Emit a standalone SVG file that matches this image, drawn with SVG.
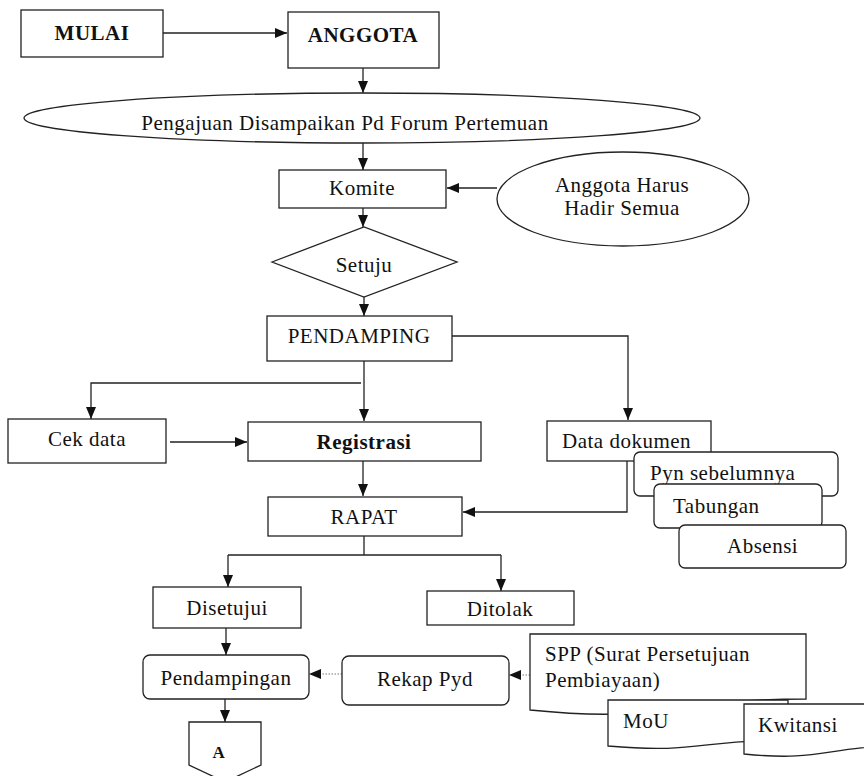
<svg xmlns="http://www.w3.org/2000/svg" width="864" height="776" viewBox="0 0 864 776" font-family="'Liberation Serif', 'DejaVu Serif', serif">
<style>
.b{fill:#fff;stroke:#222;stroke-width:1.3}
.t{font-family:'Liberation Serif','DejaVu Serif',serif;font-size:21px;letter-spacing:0.5px;fill:#111}
.c{text-anchor:middle}
.bd{font-weight:bold}
.ln{fill:none;stroke:#222;stroke-width:1.3}
.dt{fill:none;stroke:#777;stroke-width:1;stroke-dasharray:1.5 1.5}
</style>
<defs>
<marker id="ah" markerUnits="userSpaceOnUse" markerWidth="12" markerHeight="10" refX="12" refY="5" orient="auto">
<path d="M0,0 L12,5 L0,10 Z" fill="#111"/>
</marker>
</defs>
<rect width="864" height="776" fill="#fff"/>
<g id="connectors">
<path class="ln" d="M163,33 H287" marker-end="url(#ah)"/>
<path class="ln" d="M363,68 V93" marker-end="url(#ah)"/>
<path class="ln" d="M363,143 V170" marker-end="url(#ah)"/>
<path class="ln" d="M497,188 H447" marker-end="url(#ah)"/>
<path class="ln" d="M363,208 V227" marker-end="url(#ah)"/>
<path class="ln" d="M364,297 V316" marker-end="url(#ah)"/>
<path class="ln" d="M452,336 H628 V420" marker-end="url(#ah)"/>
<path class="ln" d="M364,361 V421" marker-end="url(#ah)"/>
<path class="ln" d="M361,383 H91 V419" marker-end="url(#ah)"/>
<path class="ln" d="M170,442 H247" marker-end="url(#ah)"/>
<path class="ln" d="M363,461 V496" marker-end="url(#ah)"/>
<path class="ln" d="M627,461 V512 H463" marker-end="url(#ah)"/>
<path class="ln" d="M364,536 V555"/>
<path class="ln" d="M228,555 H501"/>
<path class="ln" d="M228,555 V587" marker-end="url(#ah)"/>
<path class="ln" d="M501,555 V591" marker-end="url(#ah)"/>
<path class="ln" d="M226,628 V655" marker-end="url(#ah)"/>
<path class="ln" d="M225,694 V722" marker-end="url(#ah)"/>
<path class="dt" d="M342,674 H320"/>
<path d="M309,674 L321,669 L321,679 Z" fill="#111"/>
<path class="dt" d="M530,675 H520"/>
<path d="M509,675 L521,670 L521,680 Z" fill="#111"/>
</g>
<g id="mulai"><rect class="b" x="21" y="10" width="142" height="47"/><text class="t c bd" x="92" y="40">MULAI</text></g>
<g id="anggota"><rect class="b" x="288" y="12" width="151" height="56"/><text class="t c bd" x="363" y="42">ANGGOTA</text></g>
<g id="pengajuan"><ellipse class="b" cx="362" cy="118" rx="338" ry="25"/><text class="t c" x="345" y="130">Pengajuan Disampaikan Pd Forum Pertemuan</text></g>
<g id="komite"><rect class="b" x="279" y="170" width="167" height="38"/><text class="t c" x="362" y="195">Komite</text></g>
<g id="anggota-hadir"><ellipse class="b" cx="623" cy="199" rx="126" ry="47"/><text class="t c" x="622" y="192">Anggota Harus</text><text class="t c" x="622" y="215">Hadir Semua</text></g>
<g id="setuju"><polygon class="b" points="272,262 364,227 457,262 364,297"/><text class="t c" x="364" y="272">Setuju</text></g>
<g id="pendamping"><rect class="b" x="267" y="316" width="185" height="45"/><text class="t c" x="359" y="343">PENDAMPING</text></g>
<g id="cek-data"><rect class="b" x="8" y="419" width="158" height="44"/><text class="t c" x="87" y="446">Cek data</text></g>
<g id="registrasi"><rect class="b" x="248" y="422" width="233" height="39"/><text class="t c bd" x="364" y="449">Registrasi</text></g>
<g id="data-dokumen"><rect class="b" x="547" y="421" width="164" height="40"/><text class="t" x="562" y="448">Data dokumen</text></g>
<g id="pyn"><rect class="b" x="634" y="452" width="204" height="44" rx="6"/><text class="t" x="650" y="480">Pyn sebelumnya</text></g>
<g id="tabungan"><rect class="b" x="654" y="484" width="168" height="44" rx="6"/><text class="t" x="673" y="513">Tabungan</text></g>
<g id="absensi"><rect class="b" x="679" y="525" width="167" height="43" rx="6"/><text class="t" x="727" y="553">Absensi</text></g>
<g id="rapat"><rect class="b" x="268" y="497" width="194" height="39"/><text class="t c" x="364" y="524">RAPAT</text></g>
<g id="disetujui"><rect class="b" x="153" y="587" width="148" height="41"/><text class="t c" x="227" y="615">Disetujui</text></g>
<g id="ditolak"><rect class="b" x="427" y="591" width="147" height="34"/><text class="t c" x="500" y="616">Ditolak</text></g>
<g id="pendampingan"><rect class="b" x="143" y="655" width="166" height="44" rx="7"/><text class="t c" x="226" y="685">Pendampingan</text></g>
<g id="a"><path class="b" d="M189,722 H261 V765 L225,782 L189,765 Z"/><text class="t c bd" x="219" y="758" style="font-size:17px">A</text></g>
<g id="rekap"><rect class="b" x="342" y="656" width="167" height="49" rx="7"/><text class="t c" x="425" y="686">Rekap Pyd</text></g>
<g id="spp"><path class="b" d="M530,634 H806 V699 C668,699 668,724 530,710 Z"/><text class="t" x="545" y="661">SPP (Surat Persetujuan</text><text class="t" x="545" y="687">Pembiayaan)</text></g>
<g id="mou"><path class="b" d="M608,700 H788 V740 C698,740 698,754 608,746 Z"/><text class="t" x="623" y="728">MoU</text></g>
<g id="kwitansi"><path class="b" d="M744,704 H904 V746 C824,746 824,762 744,754 Z"/><text class="t" x="758" y="732">Kwitansi</text></g>
</svg>
